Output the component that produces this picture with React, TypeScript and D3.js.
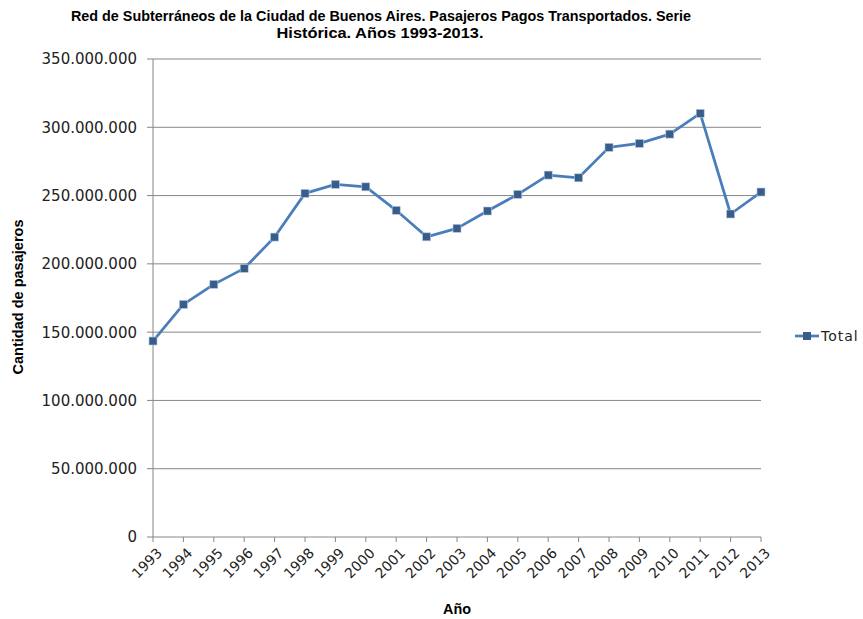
import React from 'react';
import * as d3 from 'd3';

const years = ['1993', '1994', '1995', '1996', '1997', '1998', '1999', '2000', '2001', '2002', '2003',
    '2004', '2005', '2006', '2007', '2008', '2009', '2010', '2011', '2012', '2013'];
const total = [143500000, 170300000, 185000000, 196700000, 219600000, 251600000, 258200000, 256400000,
    239200000, 219800000, 226000000, 238700000, 250900000, 265000000, 263000000, 285300000, 288200000,
    295000000, 310200000, 236500000, 252600000];
const yTicks = [0, 50000000, 100000000, 150000000, 200000000, 250000000, 300000000, 350000000];

const width = 863;
const height = 619;
const margin = {top: 59, right: 102, bottom: 82, left: 153};

const narrow = '"Liberation Sans Narrow", "Arial Narrow", "Liberation Sans", sans-serif';
const sans = '"DejaVu Sans", Verdana, sans-serif';
const lineColor = '#4a7ebb';
const markerColor = '#385d8a';
const gridColor = '#868686';

const fmt = (v: number) => d3.format(',')(v).replace(/,/g, '.');

const App = () => {
    const x = d3.scalePoint<string>()
        .domain(years)
        .range([margin.left, width - margin.right]);
    const y = d3.scaleLinear()
        .domain([0, 350000000])
        .range([height - margin.bottom, margin.top]);
    const line = d3.line<number>()
        .x((d, i) => x(years[i]) as number)
        .y(d => y(d));
    const x0 = margin.left;
    const x1 = width - margin.right;
    const yBase = y(0);

    return (
        <svg width={width} height={height} style={{position: 'absolute', left: 0, top: 0}}>
            <rect width={width} height={height} fill="#fff"/>
            <text x={381} y={21} textAnchor="middle" fontFamily={narrow} fontWeight="bold" fontSize="15"
                  textLength={620} lengthAdjust="spacingAndGlyphs">
                Red de Subterráneos de la Ciudad de Buenos Aires. Pasajeros Pagos Transportados. Serie
            </text>
            <text x={380} y={38} textAnchor="middle" fontFamily={narrow} fontWeight="bold" fontSize="15"
                  textLength={207} lengthAdjust="spacingAndGlyphs">
                Histórica. Años 1993-2013.
            </text>

            {yTicks.map(t => (
                <g key={t}>
                    {t > 0 && <line x1={x0} x2={x1} y1={y(t)} y2={y(t)} stroke={gridColor} strokeWidth="1"/>}
                    <line x1={x0 - 6} x2={x0} y1={y(t)} y2={y(t)} stroke={gridColor} strokeWidth="1"/>
                    <text x={137} y={y(t)} dy="0.36em" textAnchor="end" fontFamily={sans} fontSize="15"
                          fill="#222">{fmt(t)}</text>
                </g>
            ))}

            <line x1={x0} x2={x0} y1={margin.top} y2={yBase} stroke={gridColor} strokeWidth="1"/>
            <line x1={x0} x2={x1} y1={yBase} y2={yBase} stroke={gridColor} strokeWidth="1"/>

            {years.map(yr => {
                const px = x(yr) as number;
                return (
                    <g key={yr}>
                        <line x1={px} x2={px} y1={yBase} y2={yBase + 5} stroke={gridColor} strokeWidth="1"/>
                        <text transform={`translate(${px + 3},${yBase + 10}) rotate(-45)`} textAnchor="end"
                              dy="0.7em" fontFamily={sans} fontSize="14" fill="#222">{yr}</text>
                    </g>
                );
            })}

            <path d={line(total) as string} fill="none" stroke={lineColor} strokeWidth="2.75"
                  strokeLinejoin="round"/>
            {total.map((v, i) => (
                <rect key={years[i]} x={(x(years[i]) as number) - 4} y={y(v) - 4} width={8} height={8}
                      fill={markerColor} stroke="#b9c9e0" strokeWidth="0.6"/>
            ))}

            <text transform={`translate(23,297) rotate(-90)`} textAnchor="middle"
                  fontFamily={narrow} fontWeight="bold" fontSize="15" textLength={155}
                  lengthAdjust="spacingAndGlyphs">Cantidad de pasajeros</text>
            <text x={457} y={614} textAnchor="middle" fontFamily={narrow} fontWeight="bold" fontSize="15"
                  textLength={28} lengthAdjust="spacingAndGlyphs">Año</text>

            <g>
                <line x1={795} x2={819} y1={336} y2={336} stroke={lineColor} strokeWidth="2.75"/>
                <rect x={803} y={332} width={8} height={8} fill={markerColor}/>
                <text x={821} y={336} dy="0.36em" fontFamily={sans} fontSize="14" letterSpacing="1"
                      fill="#222">Total</text>
            </g>
        </svg>
    );
};

export default App;
